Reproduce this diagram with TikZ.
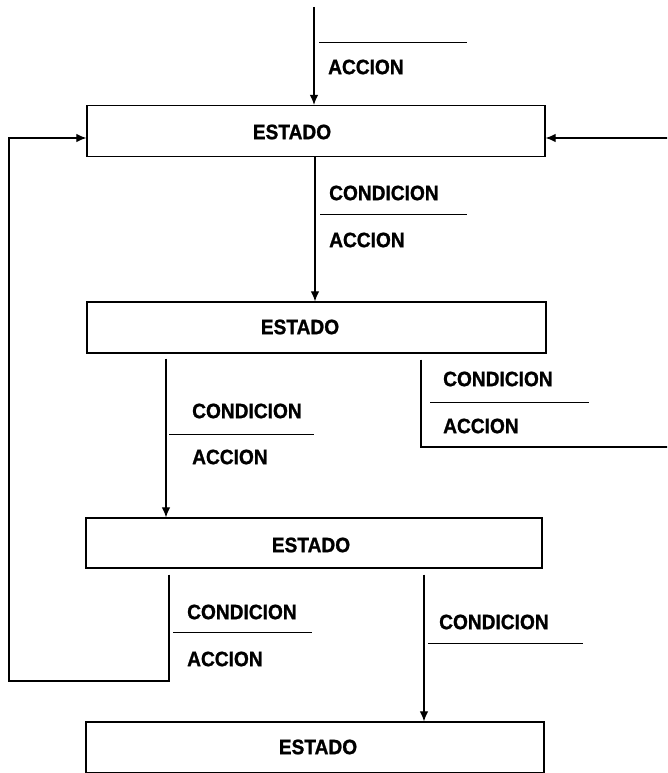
\documentclass[tikz,border=0pt]{standalone}
\usepackage{fontspec}
\setmainfont[BoldFeatures={FakeBold=1.2}]{Liberation Sans}
\usetikzlibrary{arrows.meta}

% heavy, slightly narrowed lettering for all labels
\newcommand{\lblfont}{\fontsize{20.8}{24}\selectfont\bfseries}
\newcommand{\narrow}[1]{\scalebox{0.92}[1]{#1}}

\tikzset{
  stbox/.style={draw, line width=1.3pt, minimum height=51pt, inner sep=0pt},
  sttext/.style={font=\lblfont, inner sep=0pt},
  lbl/.style={font=\lblfont, anchor=west, inner sep=0pt},
  rule/.style={line width=1pt},
  wire/.style={line width=1.1pt},
  flow/.style={wire, -{Latex[length=10pt,width=8.5pt]}},
}

\begin{document}
\begin{tikzpicture}[x=1pt, y=-1pt]
  \useasboundingbox (0,0) rectangle (667,773);
  \clip (0,0) rectangle (667,773);

  % states
  \node[stbox, minimum width=458pt] (s1) at (316,131) {};
  \node[stbox, minimum width=459pt] (s2) at (316.5,327.5) {};
  \node[stbox, minimum width=456pt, minimum height=50pt] (s3) at (314,543) {};
  \node[stbox, minimum width=458pt] (s4) at (315,747.5) {};

  \node[sttext] (s1t) at (292,132) {\narrow{ESTADO}};
  \node[sttext] (s2t) at (300,327) {\narrow{ESTADO}};
  \node[sttext] (s3t) at (311,545) {\narrow{ESTADO}};
  \node[sttext] (s4t) at (318,747) {\narrow{ESTADO}};

  % connector columns and rows
  \coordinate (in) at (314,7);
  \coordinate (c1) at (315,0);
  \coordinate (c2) at (166,0);
  \coordinate (c3) at (421,0);
  \coordinate (c4) at (169,0);
  \coordinate (c5) at (424,0);
  \coordinate (r1) at (0,138);
  \coordinate (rr) at (690,447);
  \coordinate (ll) at (9,681);

  % transitions
  \draw[flow] (in) -- (in |- s1.north);
  \draw[flow] (s1.south -| c1) -- (s2.north -| c1);
  \draw[flow] ([yshift=-5pt]s2.south -| c2) -- (s3.north -| c2);
  \draw[flow] ([yshift=-6pt]s3.south -| c5) -- (s4.north -| c5);

  % return paths to the first state
  \draw[flow] ([yshift=-6pt]s2.south -| c3) -- (c3 |- rr) -- (rr)
              -- (rr |- r1) -- (s1.east |- r1);
  \draw[flow] ([yshift=-6pt]s3.south -| c4) -- (c4 |- ll) -- (ll)
              -- (ll |- r1) -- (s1.west |- r1);

  % conditions / actions
  \draw[rule] (319,43) coordinate (t0a) -- (467,43) coordinate (t0b);
  \node[lbl] (t0act) at (328,67) {\narrow{ACCION}};

  \node[lbl] (t1cond) at (329,193) {\narrow{CONDICION}};
  \draw[rule] (320,214) coordinate (t1a) -- (467,214) coordinate (t1b);
  \node[lbl] (t1act) at (329,240) {\narrow{ACCION}};

  \node[lbl] (t2cond) at (192,411) {\narrow{CONDICION}};
  \draw[rule] (169,434) coordinate (t2a) -- (314,434) coordinate (t2b);
  \node[lbl] (t2act) at (192,457) {\narrow{ACCION}};

  \node[lbl] (t3cond) at (443,379) {\narrow{CONDICION}};
  \draw[rule] (430,402) coordinate (t3a) -- (589,402) coordinate (t3b);
  \node[lbl] (t3act) at (443,426) {\narrow{ACCION}};

  \node[lbl] (t4cond) at (187,612) {\narrow{CONDICION}};
  \draw[rule] (173,632) coordinate (t4a) -- (312,632) coordinate (t4b);
  \node[lbl] (t4act) at (187,659) {\narrow{ACCION}};

  \node[lbl] (t5cond) at (439,622) {\narrow{CONDICION}};
  \draw[rule] (428,643) coordinate (t5a) -- (583,643) coordinate (t5b);
\end{tikzpicture}
\end{document}
